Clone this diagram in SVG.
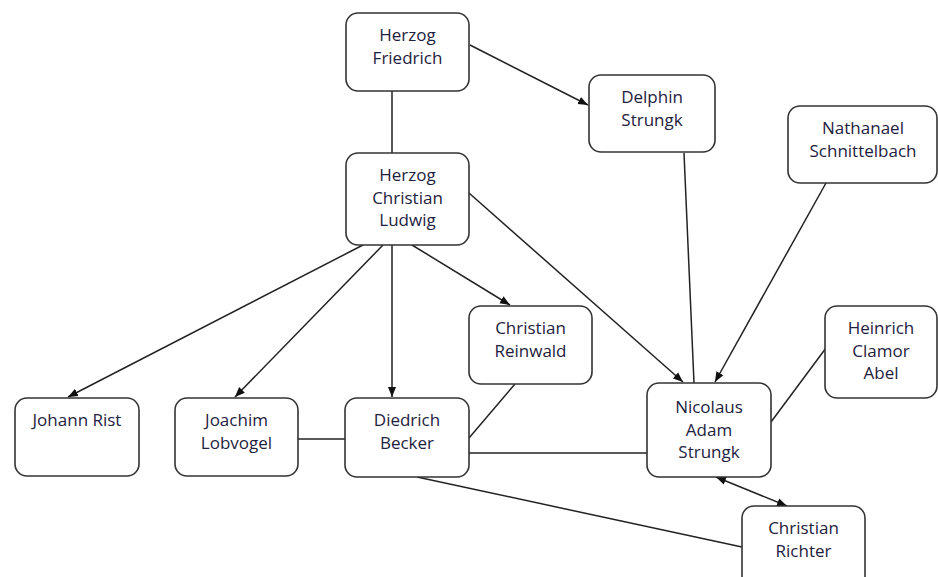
<svg xmlns="http://www.w3.org/2000/svg" width="938" height="577" viewBox="0 0 938 577">
  <style>
    .box { fill: #ffffff; stroke: #333333; stroke-width: 1.6; }
    .lbl { font-family: "Open Sans", "Liberation Sans", sans-serif; font-size: 17px; fill: #1e2240; text-anchor: middle; }
    .edge { stroke: #222222; stroke-width: 1.5; fill: none; }
    .arr { marker-end: url(#head); }
    .both { marker-start: url(#head); marker-end: url(#head); }
  </style>
  <defs>
    <marker id="head" viewBox="0 0 10 10" refX="10" refY="5" markerWidth="10" markerHeight="10" markerUnits="userSpaceOnUse" orient="auto-start-reverse">
      <path d="M0,1 L10,5 L0,9 Z" fill="#111111"/>
    </marker>
  </defs>
  <rect width="938" height="577" fill="#ffffff"/>

  <!-- connectors -->
  <g id="connectors">
    <line class="edge" x1="392" y1="91" x2="392" y2="153"/>
    <line class="edge arr" x1="470" y1="45" x2="588" y2="105"/>
    <line class="edge arr" x1="469" y1="193" x2="683" y2="382"/>
    <line class="edge" x1="684" y1="153" x2="694" y2="383"/>
    <line class="edge arr" x1="826" y1="183" x2="715" y2="382"/>
    <line class="edge" x1="826" y1="348" x2="771" y2="422"/>
    <line class="edge arr" x1="363" y1="245" x2="68" y2="397"/>
    <line class="edge arr" x1="383" y1="245" x2="235" y2="397"/>
    <line class="edge arr" x1="392" y1="245" x2="392" y2="397"/>
    <line class="edge arr" x1="412" y1="245" x2="510" y2="305"/>
    <line class="edge" x1="298" y1="439" x2="345" y2="439"/>
    <line class="edge" x1="515" y1="384" x2="469" y2="438"/>
    <line class="edge" x1="469" y1="453" x2="647" y2="453"/>
    <line class="edge" x1="417" y1="477" x2="742" y2="547"/>
    <line class="edge both" x1="716" y1="477" x2="787" y2="506"/>
  </g>

  <g id="herzog-friedrich">
    <rect class="box" x="346" y="13" width="123" height="78" rx="12"/>
    <text class="lbl" x="407.5" y="41">Herzog</text>
    <text class="lbl" x="407.5" y="63.5">Friedrich</text>
  </g>
  <g id="delphin-strungk">
    <rect class="box" x="589" y="75" width="126" height="77" rx="12"/>
    <text class="lbl" x="652" y="103">Delphin</text>
    <text class="lbl" x="652" y="125.5">Strungk</text>
  </g>
  <g id="nathanael-schnittelbach">
    <rect class="box" x="788" y="106" width="149" height="77" rx="12"/>
    <text class="lbl" x="863" y="134">Nathanael</text>
    <text class="lbl" x="863" y="156.5">Schnittelbach</text>
  </g>
  <g id="herzog-christian-ludwig">
    <rect class="box" x="346" y="153" width="123" height="92" rx="12"/>
    <text class="lbl" x="407.5" y="181">Herzog</text>
    <text class="lbl" x="407.5" y="203.5">Christian</text>
    <text class="lbl" x="407.5" y="226">Ludwig</text>
  </g>
  <g id="christian-reinwald">
    <rect class="box" x="469" y="306" width="123" height="78" rx="12"/>
    <text class="lbl" x="530.5" y="334">Christian</text>
    <text class="lbl" x="530.5" y="356.5">Reinwald</text>
  </g>
  <g id="heinrich-clamor-abel">
    <rect class="box" x="825" y="306" width="112" height="92" rx="12"/>
    <text class="lbl" x="881" y="334">Heinrich</text>
    <text class="lbl" x="881" y="356.5">Clamor</text>
    <text class="lbl" x="881" y="379">Abel</text>
  </g>
  <g id="johann-rist">
    <rect class="box" x="15" y="398" width="124" height="78" rx="12"/>
    <text class="lbl" x="77" y="426">Johann Rist</text>
  </g>
  <g id="joachim-lobvogel">
    <rect class="box" x="175" y="398" width="123" height="78" rx="12"/>
    <text class="lbl" x="236.5" y="426">Joachim</text>
    <text class="lbl" x="236.5" y="448.5">Lobvogel</text>
  </g>
  <g id="diedrich-becker">
    <rect class="box" x="345" y="398" width="124" height="79" rx="12"/>
    <text class="lbl" x="407" y="426">Diedrich</text>
    <text class="lbl" x="407" y="448.5">Becker</text>
  </g>
  <g id="nicolaus-adam-strungk">
    <rect class="box" x="647" y="383" width="124" height="94" rx="12"/>
    <text class="lbl" x="709" y="413">Nicolaus</text>
    <text class="lbl" x="709" y="435.5">Adam</text>
    <text class="lbl" x="709" y="458">Strungk</text>
  </g>
  <g id="christian-richter">
    <rect class="box" x="742" y="506" width="123" height="90" rx="12"/>
    <text class="lbl" x="803.5" y="534">Christian</text>
    <text class="lbl" x="803.5" y="556.5">Richter</text>
  </g>
</svg>
